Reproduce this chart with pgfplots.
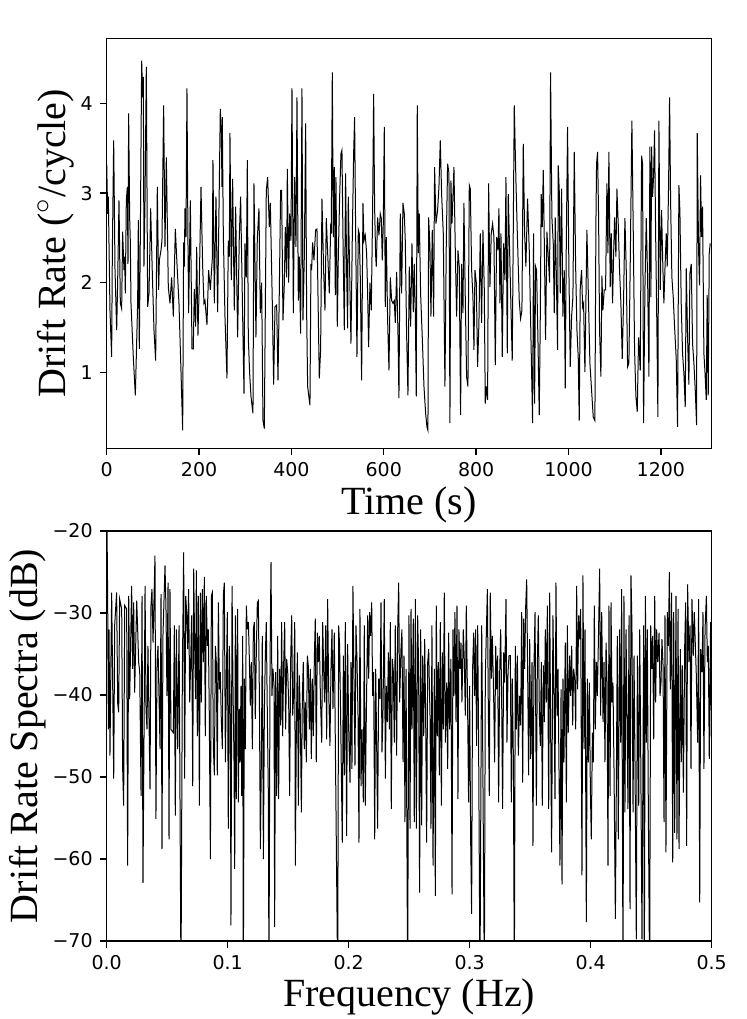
\documentclass[border=0pt]{standalone}
\usepackage{fontspec}
\setmainfont{Liberation Serif}
\newfontfamily\dejavu{DejaVu Sans}
\usepackage{pgfplots}
\pgfplotsset{compat=1.18}
\newcommand\mn{\symbol{"2212}}
\begin{document}
\begin{tikzpicture}
\pgfplotsset{
  every axis/.append style={
    scale only axis, width=302.5pt, height=205pt,
    axis line style={line width=0.7pt},
    tick align=outside, xtick pos=left, ytick pos=left,
    major tick length=3.5pt,
    every tick/.style={black, line width=0.7pt},
    tick label style={font=\dejavu\fontsize{9.5}{11}\selectfont},
    /pgf/number format/assume math mode=true,
    /pgf/number format/1000 sep={},
    label style={font=\fontsize{20}{24}\selectfont},
    ylabel style={yshift=-3.5pt},
    xlabel style={yshift=2pt},
  }
}
\begin{axis}[
  at={(53.35pt,285.35pt)}, anchor=south west,
  xmin=0, xmax=1310, ymin=0.15, ymax=4.73,
  xtick={0,200,400,600,800,1000,1200},
  ytick={1,2,3,4},
  xlabel={Time (s)},
  ylabel={Drift Rate ($^{\scriptstyle\circ}$/cycle)},
]
\addplot[black, line width=0.5pt] table {
0 3.33
2.1 2.77
3.5 2.96
7.1 1.69
10.7 1.17
12.2 2.33
15.1 3.59
18.0 2.14
21.6 1.47
23.7 2.00
26.6 2.92
29.5 1.77
32.4 1.71
34.5 2.57
37.4 2.14
38.9 2.29
40.3 1.88
42.5 2.92
44.7 3.07
46.1 2.21
47.5 3.89
49.7 2.73
51.1 2.47
52.6 1.77
57.6 1.17
62.0 0.74
67.0 1.77
68.5 2.70
70.6 1.26
72.8 2.51
75.7 4.48
77.9 4.07
79.3 4.30
80.7 2.18
82.9 2.89
85.8 4.41
88.7 1.73
91.6 1.88
95.2 2.83
98.8 2.10
102.4 1.47
106.0 1.13
109.6 3.07
112.5 1.92
114.0 2.25
117.5 2.36
119.7 2.47
123.3 3.98
126.2 2.40
129.1 3.40
133.4 1.95
137.0 1.77
140.6 2.06
144.3 1.62
148.6 2.60
152.2 2.21
156.5 1.77
160.8 1.02
164.5 0.35
166.6 2.45
168.1 2.18
169.5 2.83
171.7 2.51
173.8 4.17
176.0 2.44
177.4 1.66
181.1 2.92
184.7 1.26
187.5 1.26
189.7 1.93
192.6 1.51
194.8 2.40
197.6 1.41
200.5 2.00
204.2 3.07
207.8 2.18
210.6 1.77
212.8 1.80
217.1 1.53
220.7 2.14
224.4 1.92
228.7 2.27
230.1 3.37
233.0 1.77
235.2 2.51
236.6 2.96
240.2 1.67
246.0 3.94
248.2 3.67
249.6 3.07
250.3 3.85
252.5 2.55
256.1 1.62
260.4 0.93
263.3 2.47
265.5 2.29
266.9 3.67
269.8 2.03
272.7 3.16
276.3 1.69
279.2 2.85
283.5 1.39
287.1 2.51
290.0 2.96
294.4 1.62
297.3 0.76
299.4 2.44
302.3 2.06
304.5 3.37
306.6 1.39
309.5 0.99
312.4 0.73
316.7 0.54
318.9 3.11
323.2 1.39
326.1 2.49
329.7 2.83
332.6 1.66
335.5 2.00
338.4 0.46
341.3 0.37
343.4 1.66
345.6 3.03
348.5 3.18
352.1 2.62
354.3 2.89
358.6 1.77
361.5 0.86
364.4 1.73
368.0 1.75
370.9 0.91
373.8 1.92
376.6 3.03
378.8 3.03
381.7 1.58
384.6 1.98
386.8 2.62
389.6 2.06
391.1 3.27
394.0 2.00
396.1 2.77
399.0 2.47
401.2 4.17
404.1 1.66
407.0 3.18
409.8 2.40
412.0 4.07
414.9 1.80
417.0 2.29
419.9 1.43
422.8 4.17
425.0 1.58
427.9 2.29
430.8 3.78
432.9 1.69
435.1 0.84
440.1 0.63
442.3 2.21
443.7 2.14
445.9 2.45
448.8 2.25
452.4 2.59
455.3 2.60
460.3 0.93
463.2 1.25
466.1 2.94
469.7 2.14
472.6 1.69
475.5 2.72
478.4 2.34
482.0 1.88
484.9 2.62
486.3 2.59
488.5 4.35
490.6 2.51
492.8 3.29
495.0 1.86
496.4 3.18
499.3 1.51
501.5 2.29
504.4 2.96
507.2 3.44
509.4 3.48
511.6 2.51
514.5 1.47
517.3 3.22
519.5 2.14
521.7 1.49
523.1 2.96
526.0 2.14
528.9 1.32
531.8 2.51
534.7 3.44
536.8 3.85
539.0 2.59
541.9 1.17
544.8 2.59
546.9 2.55
549.1 2.06
552.0 0.91
554.9 2.89
557.0 2.47
559.9 2.53
562.8 2.33
565.0 1.88
567.1 1.28
570.0 2.00
572.9 1.69
575.8 2.81
578.0 4.11
580.1 2.85
582.3 2.31
583.7 2.18
586.6 2.73
589.5 2.53
592.4 2.77
594.6 2.72
596.7 2.25
598.9 2.66
601.1 3.74
603.2 1.73
605.4 2.51
608.3 1.58
611.2 1.02
614.1 2.06
617.0 1.80
619.8 1.77
622.7 1.80
624.9 1.55
627.8 2.12
630.7 1.43
632.8 0.71
635.7 2.77
638.6 1.88
641.5 2.89
644.4 2.77
646.5 2.47
649.4 1.43
652.3 0.74
655.2 2.18
658.1 1.51
661.0 2.44
663.9 1.67
666.0 2.21
668.2 1.69
670.3 0.73
672.5 3.98
674.7 2.33
676.8 2.77
679.7 1.88
683.3 1.39
687.0 0.84
690.6 0.54
693.4 0.39
695.6 0.35
697.1 2.73
699.9 2.40
702.1 1.62
705.0 2.59
707.9 1.62
710.0 3.29
712.9 2.66
716.5 2.81
719.4 3.07
722.3 3.59
725.2 2.99
728.8 2.55
732.4 0.84
735.3 2.44
738.2 3.33
741.1 3.22
743.2 0.43
745.4 3.14
747.6 2.66
749.7 2.96
751.9 3.29
754.8 2.36
757.7 1.62
760.6 2.36
763.4 2.18
766.3 0.52
768.5 2.21
771.4 1.66
773.5 2.89
776.4 1.84
779.3 0.95
782.2 0.84
785.1 3.09
787.3 3.05
790.2 2.14
793.0 1.84
795.2 1.25
797.4 2.14
800.3 2.00
803.1 1.06
806.0 1.55
808.9 2.55
811.8 1.55
814.7 2.59
817.6 1.92
819.7 0.65
821.9 0.84
824.8 0.69
827.0 3.11
829.8 1.95
832.7 2.55
835.6 2.66
838.5 2.51
841.4 1.08
844.3 2.51
847.2 2.36
849.3 2.83
851.5 1.77
853.7 2.55
856.5 1.17
859.4 2.44
862.3 2.03
864.5 3.18
867.4 1.21
869.5 2.99
878.1 1.13
882.5 3.98
886.1 3.14
889.0 2.57
893.3 1.80
896.2 1.60
899.1 1.69
902.0 3.55
904.9 2.55
907.7 2.18
911.3 2.94
915.0 2.36
918.6 1.39
922.2 0.43
924.3 2.55
926.5 0.65
928.7 2.18
930.8 2.14
933.7 1.39
936.6 0.52
938.8 1.60
940.9 2.99
943.1 2.62
945.3 3.26
947.4 2.51
950.3 1.36
953.2 2.57
956.1 2.29
959.0 2.00
961.1 4.35
964.0 2.73
966.9 2.44
969.1 1.66
971.2 2.73
973.4 2.14
976.3 1.25
977.7 3.31
979.9 3.03
982.1 1.88
985.0 3.05
987.8 1.62
990.7 2.14
992.9 0.82
995.1 2.40
997.9 3.74
1000.8 2.14
1003.7 1.06
1006.6 1.62
1009.5 1.84
1012.4 3.46
1015.3 2.21
1018.2 1.47
1021.0 1.17
1023.2 0.46
1025.4 1.95
1028.3 2.14
1030.4 1.73
1032.6 1.77
1035.5 1.00
1039.8 2.59
1042.7 1.92
1046.3 1.10
1049.9 0.80
1053.5 0.50
1057.1 0.46
1059.3 2.66
1060.7 3.33
1062.9 3.46
1065.1 2.73
1067.2 1.47
1070.1 0.95
1072.3 2.08
1074.4 1.69
1077.3 1.92
1080.2 1.92
1083.1 3.11
1085.3 2.33
1087.4 3.46
1090.3 1.95
1092.5 2.55
1095.4 1.77
1097.5 2.29
1099.7 2.73
1102.6 2.29
1104.8 3.05
1107.6 2.66
1110.5 2.14
1113.4 1.77
1116.3 1.15
1119.2 1.80
1122.1 2.72
1125.0 2.14
1127.9 1.06
1130.7 1.10
1133.6 2.21
1137.2 3.81
1140.1 2.59
1143.0 1.25
1145.9 0.73
1148.8 0.56
1151.7 1.39
1155.3 1.02
1158.2 3.42
1160.3 3.33
1162.5 0.43
1165.4 1.92
1168.3 2.72
1171.2 2.06
1174.1 0.95
1176.2 3.52
1178.4 1.84
1179.8 3.52
1182.0 2.96
1184.1 3.18
1186.3 3.70
1188.5 2.59
1191.4 1.47
1193.5 0.50
1195.7 3.81
1198.6 1.92
1201.5 2.81
1204.4 2.14
1206.5 1.77
1208.7 2.14
1211.6 2.55
1213.7 2.18
1216.6 3.07
1218.8 4.07
1221.0 2.92
1223.8 2.06
1226.7 1.84
1229.6 1.51
1233.2 1.15
1236.1 0.39
1239.0 3.09
1241.2 2.79
1244.0 1.77
1246.9 1.21
1249.8 0.99
1252.7 0.61
1254.9 2.16
1257.8 1.39
1260.6 0.86
1262.8 2.10
1265.7 2.21
1268.6 1.32
1271.5 1.10
1274.4 0.80
1277.3 0.41
1278.7 3.67
1281.6 2.36
1283.7 1.97
1285.9 3.20
1288.1 2.51
1290.2 2.85
1293.1 1.21
1295.3 1.02
1298.2 0.69
1300.3 1.86
1302.5 0.74
1304.7 2.33
1306.8 2.44
};
\end{axis}
\begin{axis}[
  at={(53.35pt,39pt)}, anchor=south west,
  xmin=0, xmax=0.5, ymin=-70, ymax=-20,
  xtick={0,0.1,0.2,0.3,0.4,0.5},
  xticklabels={0.0,0.1,0.2,0.3,0.4,0.5},
  ytick={-70,-60,-50,-40,-30,-20},
  yticklabels={\mn70,\mn60,\mn50,\mn40,\mn30,\mn20},
  xlabel={Frequency (Hz)},
  ylabel={Drift Rate Spectra (dB)},
]
\addplot[black, line width=0.5pt] table {
0 -15
0.0008 -28.3
0.0014 -44.2
0.0019 -32.0
0.0027 -47.4
0.0041 -27.5
0.0049 -38.0
0.0058 -50.2
0.0066 -31.5
0.0082 -27.5
0.0091 -41.0
0.0099 -42.1
0.0107 -28.3
0.0124 -29.5
0.0132 -49.0
0.0140 -53.5
0.0149 -29.1
0.0165 -29.5
0.0173 -60.8
0.0182 -27.9
0.0190 -40.5
0.0206 -26.7
0.0215 -36.8
0.0223 -28.7
0.0231 -39.7
0.0248 -28.5
0.0256 -32.0
0.0264 -36.0
0.0273 -37.2
0.0284 -52.3
0.0292 -27.9
0.0300 -62.9
0.0317 -26.7
0.0325 -41.7
0.0333 -44.2
0.0341 -34.0
0.0358 -51.5
0.0366 -29.1
0.0374 -27.1
0.0383 -33.6
0.0399 -23.0
0.0407 -55.1
0.0416 -36.0
0.0424 -34.0
0.0441 -46.6
0.0449 -27.7
0.0457 -58.8
0.0465 -32.8
0.0482 -24.2
0.0490 -29.5
0.0498 -40.1
0.0507 -26.3
0.0515 -57.6
0.0523 -27.1
0.0531 -44.2
0.0551 -44.6
0.0559 -31.5
0.0567 -54.7
0.0576 -32.0
0.0587 -46.6
0.0598 -31.5
0.0614 -75
0.0625 -38.0
0.0636 -22.6
0.0644 -50.2
0.0653 -27.9
0.0661 -29.9
0.0669 -34.4
0.0677 -27.1
0.0686 -40.9
0.0694 -36.0
0.0702 -30.3
0.0711 -51.1
0.0719 -24.6
0.0727 -34.0
0.0735 -40.5
0.0741 -24.8
0.0749 -45.0
0.0757 -27.9
0.0766 -53.5
0.0774 -27.5
0.0782 -40.9
0.0790 -27.1
0.0799 -36.0
0.0807 -25.6
0.0815 -45.0
0.0823 -27.9
0.0832 -34.0
0.0840 -32.0
0.0848 -42.5
0.0857 -60.0
0.0865 -27.9
0.0873 -27.5
0.0881 -46.2
0.0890 -49.8
0.0898 -34.0
0.0906 -36.0
0.0914 -49.8
0.0923 -28.7
0.0931 -39.3
0.0939 -37.2
0.0947 -42.9
0.0956 -46.6
0.0964 -27.9
0.0972 -26.3
0.0981 -48.2
0.0989 -38.0
0.0997 -29.9
0.1005 -56.3
0.1014 -34.0
0.1022 -43.3
0.1027 -68.1
0.1036 -26.7
0.1044 -39.3
0.1052 -47.8
0.1058 -61.2
0.1063 -30.3
0.1071 -52.7
0.1077 -34.8
0.1082 -29.5
0.1088 -53.1
0.1096 -41.7
0.1102 -48.2
0.1110 -38.9
0.1116 -52.3
0.1124 -32.8
0.1129 -75
0.1138 -38.0
0.1146 -46.6
0.1154 -29.1
0.1162 -32.0
0.1171 -31.1
0.1179 -35.6
0.1187 -41.3
0.1195 -36.0
0.1204 -46.6
0.1212 -32.0
0.1220 -31.1
0.1228 -42.9
0.1237 -34.4
0.1245 -28.7
0.1253 -28.5
0.1262 -40.1
0.1270 -58.8
0.1278 -48.2
0.1286 -32.8
0.1295 -60.0
0.1303 -42.1
0.1311 -35.2
0.1319 -31.1
0.1328 -42.9
0.1336 -52.3
0.1341 -75
0.1350 -36.0
0.1358 -23.8
0.1366 -40.1
0.1374 -36.8
0.1383 -38.9
0.1388 -68.3
0.1396 -37.2
0.1405 -52.3
0.1413 -32.8
0.1421 -52.7
0.1429 -36.8
0.1438 -43.7
0.1446 -31.1
0.1454 -45.0
0.1463 -36.0
0.1471 -31.1
0.1479 -44.2
0.1487 -35.6
0.1496 -37.2
0.1504 -40.9
0.1512 -52.3
0.1520 -36.0
0.1529 -30.3
0.1537 -42.5
0.1545 -40.1
0.1554 -31.1
0.1559 -60.8
0.1567 -45.0
0.1576 -34.8
0.1584 -53.5
0.1592 -37.6
0.1600 -42.5
0.1609 -54.3
0.1617 -40.1
0.1625 -36.0
0.1633 -46.6
0.1642 -40.9
0.1650 -48.2
0.1658 -35.2
0.1666 -36.4
0.1675 -44.2
0.1683 -36.8
0.1691 -47.8
0.1699 -38.0
0.1708 -45.0
0.1716 -35.6
0.1724 -30.7
0.1732 -48.2
0.1741 -32.4
0.1749 -36.0
0.1757 -32.8
0.1766 -40.1
0.1777 -45.8
0.1785 -31.1
0.1793 -36.8
0.1801 -40.9
0.1810 -31.5
0.1818 -45.4
0.1826 -28.3
0.1834 -38.9
0.1845 -46.2
0.1854 -36.4
0.1862 -32.0
0.1870 -41.7
0.1881 -32.4
0.1889 -45.0
0.1909 -75
0.1917 -31.5
0.1925 -34.0
0.1934 -43.3
0.1947 -58.0
0.1956 -35.2
0.1964 -49.8
0.1972 -31.1
0.1983 -57.2
0.1991 -33.8
0.2000 -44.2
0.2011 -50.7
0.2019 -36.0
0.2027 -49.0
0.2035 -26.7
0.2052 -48.6
0.2060 -31.5
0.2069 -36.0
0.2077 -42.5
0.2085 -58.0
0.2093 -29.5
0.2102 -51.1
0.2110 -44.2
0.2121 -53.1
0.2129 -31.5
0.2137 -53.5
0.2146 -42.1
0.2157 -30.3
0.2165 -38.0
0.2173 -29.9
0.2181 -32.8
0.2190 -28.7
0.2198 -40.1
0.2206 -37.2
0.2215 -57.6
0.2223 -36.8
0.2231 -45.8
0.2239 -56.3
0.2248 -38.0
0.2259 -40.5
0.2267 -28.7
0.2275 -47.0
0.2283 -42.5
0.2294 -28.3
0.2303 -50.2
0.2311 -38.9
0.2319 -43.3
0.2328 -34.8
0.2336 -44.2
0.2344 -31.1
0.2352 -53.9
0.2361 -35.6
0.2369 -37.2
0.2377 -45.8
0.2385 -31.5
0.2396 -47.4
0.2405 -32.0
0.2413 -26.3
0.2421 -40.9
0.2432 -34.4
0.2440 -32.0
0.2449 -48.2
0.2457 -35.2
0.2465 -55.5
0.2474 -36.8
0.2487 -75
0.2498 -30.3
0.2507 -56.3
0.2515 -29.5
0.2523 -44.2
0.2534 -30.7
0.2542 -55.5
0.2551 -28.3
0.2559 -56.3
0.2570 -30.3
0.2578 -36.8
0.2586 -64.1
0.2595 -32.0
0.2603 -55.9
0.2611 -35.2
0.2620 -45.0
0.2628 -33.2
0.2636 -42.5
0.2644 -58.0
0.2653 -36.0
0.2661 -34.4
0.2672 -42.5
0.2680 -56.3
0.2688 -31.5
0.2697 -60.8
0.2708 -36.8
0.2716 -64.5
0.2724 -29.1
0.2732 -45.0
0.2741 -36.0
0.2749 -49.8
0.2757 -31.1
0.2766 -53.5
0.2774 -34.8
0.2782 -44.2
0.2790 -27.5
0.2799 -45.8
0.2810 -38.5
0.2818 -49.0
0.2826 -32.4
0.2834 -44.2
0.2845 -35.6
0.2854 -64.3
0.2862 -32.0
0.2870 -40.1
0.2878 -29.9
0.2887 -43.3
0.2895 -29.1
0.2903 -52.7
0.2911 -32.0
0.2920 -36.8
0.2928 -33.6
0.2936 -40.9
0.2947 -32.0
0.2956 -36.0
0.2964 -42.5
0.2972 -29.1
0.2983 -41.7
0.2991 -53.1
0.2999 -38.9
0.3008 -57.6
0.3016 -66.7
0.3024 -36.8
0.3033 -32.4
0.3041 -40.1
0.3049 -32.0
0.3057 -46.2
0.3066 -31.5
0.3074 -46.6
0.3085 -75
0.3099 -31.5
0.3107 -45.0
0.3121 -75
0.3129 -38.0
0.3137 -32.8
0.3146 -27.1
0.3154 -41.7
0.3162 -52.3
0.3170 -27.5
0.3179 -38.0
0.3187 -32.8
0.3198 -40.1
0.3206 -48.2
0.3215 -34.0
0.3223 -39.3
0.3231 -35.2
0.3239 -53.1
0.3248 -37.2
0.3256 -32.0
0.3264 -40.1
0.3272 -53.9
0.3281 -34.8
0.3289 -38.5
0.3300 -28.3
0.3308 -45.8
0.3317 -37.2
0.3325 -35.2
0.3336 -35.2
0.3344 -53.1
0.3352 -38.0
0.3361 -47.8
0.3369 -75
0.3377 -34.0
0.3385 -44.2
0.3394 -35.2
0.3402 -47.4
0.3413 -40.1
0.3421 -43.7
0.3430 -29.9
0.3438 -50.7
0.3446 -30.7
0.3454 -36.8
0.3463 -29.1
0.3471 -25.9
0.3479 -37.2
0.3487 -49.8
0.3496 -33.2
0.3504 -47.8
0.3515 -36.0
0.3523 -58.4
0.3531 -36.8
0.3540 -29.9
0.3551 -53.5
0.3559 -36.4
0.3567 -30.3
0.3576 -42.5
0.3584 -46.2
0.3592 -36.0
0.3600 -53.5
0.3609 -36.4
0.3617 -43.3
0.3625 -32.0
0.3633 -40.9
0.3642 -29.1
0.3653 -53.9
0.3661 -27.5
0.3669 -44.2
0.3677 -59.2
0.3688 -30.3
0.3697 -40.1
0.3705 -52.7
0.3713 -26.3
0.3722 -42.5
0.3730 -36.8
0.3738 -49.0
0.3746 -60.8
0.3755 -39.3
0.3763 -63.1
0.3771 -38.0
0.3779 -48.2
0.3790 -33.6
0.3799 -53.1
0.3807 -31.5
0.3815 -44.6
0.3826 -35.2
0.3834 -40.1
0.3843 -34.0
0.3851 -43.7
0.3859 -36.8
0.3868 -38.0
0.3876 -44.2
0.3884 -26.7
0.3892 -39.3
0.3901 -30.3
0.3909 -33.2
0.3917 -29.5
0.3928 -62.0
0.3936 -25.4
0.3945 -46.6
0.3953 -32.0
0.3964 -67.7
0.3972 -38.0
0.3980 -48.2
0.3989 -38.5
0.3997 -51.1
0.4005 -57.6
0.4014 -44.6
0.4022 -48.2
0.4030 -29.1
0.4038 -44.2
0.4047 -36.0
0.4055 -40.1
0.4066 -31.5
0.4074 -24.6
0.4082 -42.5
0.4091 -29.9
0.4102 -43.3
0.4110 -36.0
0.4118 -48.2
0.4127 -33.6
0.4135 -38.5
0.4143 -60.8
0.4151 -29.1
0.4160 -52.3
0.4168 -28.7
0.4176 -40.9
0.4184 -38.5
0.4193 -49.4
0.4204 -67.3
0.4212 -50.7
0.4220 -32.8
0.4228 -57.6
0.4239 -32.0
0.4248 -45.8
0.4256 -27.1
0.4267 -75
0.4275 -27.9
0.4283 -54.3
0.4292 -32.0
0.4300 -42.5
0.4308 -53.9
0.4317 -30.3
0.4325 -66.1
0.4333 -25.4
0.4341 -31.5
0.4350 -54.3
0.4358 -35.2
0.4366 -47.8
0.4377 -69.8
0.4386 -35.2
0.4397 -53.5
0.4405 -32.0
0.4413 -46.2
0.4424 -69.8
0.4438 -31.5
0.4443 -75
0.4452 -27.9
0.4460 -45.8
0.4468 -32.0
0.4476 -53.1
0.4487 -75
0.4496 -31.5
0.4504 -36.8
0.4512 -32.8
0.4521 -45.4
0.4529 -27.9
0.4537 -40.9
0.4545 -32.0
0.4554 -36.0
0.4565 -32.4
0.4573 -40.1
0.4581 -38.5
0.4589 -33.2
0.4598 -36.4
0.4606 -55.5
0.4614 -30.3
0.4622 -59.2
0.4633 -29.9
0.4642 -34.0
0.4650 -25.0
0.4658 -39.3
0.4669 -27.5
0.4678 -60.4
0.4686 -29.9
0.4694 -56.8
0.4705 -27.9
0.4713 -57.6
0.4722 -29.5
0.4730 -58.8
0.4741 -34.4
0.4749 -48.2
0.4757 -36.4
0.4766 -51.9
0.4777 -34.0
0.4785 -28.7
0.4793 -58.4
0.4801 -26.5
0.4812 -36.0
0.4821 -31.5
0.4829 -49.0
0.4837 -28.3
0.4848 -35.2
0.4856 -29.9
0.4865 -34.0
0.4873 -37.6
0.4884 -45.8
0.4892 -28.3
0.4901 -65.3
0.4909 -34.4
0.4920 -37.2
0.4928 -29.9
0.4936 -49.0
0.4945 -32.0
0.4956 -27.9
0.4964 -36.0
0.4972 -34.0
0.4980 -47.8
0.4991 -31.1
0.5000 -48.3
};
\end{axis}
\pgfresetboundingbox
\path[use as bounding box] (0,0) rectangle (373.5pt,509.5pt);
\end{tikzpicture}
\end{document}
